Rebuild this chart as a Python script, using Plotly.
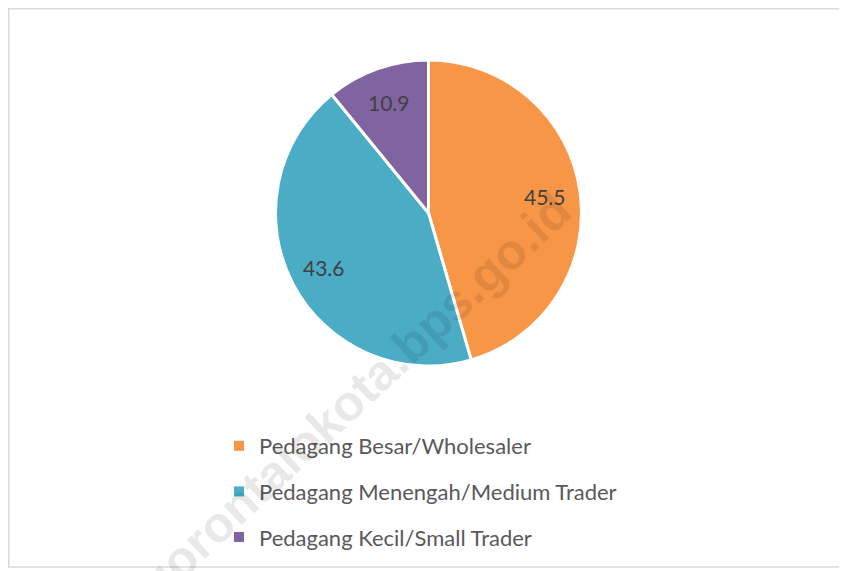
import math
import plotly.graph_objects as go

categories = ["Pedagang Besar/Wholesaler", "Pedagang Menengah/Medium Trader", "Pedagang Kecil/Small Trader"]
values = [45.5, 43.6, 10.9]
colors = ["#F79646", "#4BACC6", "#8064A2"]
watermark = "gorontalokota.bps.go.id"

# page has an 8px body margin; figure drawn at offset (8, 8)
OFF = 8
W, H = 847 - OFF, 571 - OFF
cx, cy, r = 428.5 - OFF, 213 - OFF, 153

fig = go.Figure()
fig.add_trace(go.Pie(
    labels=categories, values=values, sort=False, direction="clockwise", rotation=0,
    marker=dict(colors=colors, line=dict(color="white", width=3)),
    textinfo="none",
    domain=dict(x=[(cx - r) / W, (cx + r) / W], y=[(H - cy - r) / H, (H - cy + r) / H]),
    showlegend=False, hoverinfo="label+value",
))

# data labels placed at slice mid-angles (computed from the values)
total = sum(values)
cum = 0.0
for v in values:
    mid = (cum + v / 2) / total * 2 * math.pi
    cum += v
    px = cx + 0.77 * r * math.sin(mid)
    py = cy - 0.77 * r * math.cos(mid)
    fig.add_annotation(text=f"{v:.1f}", x=px / W, y=1 - py / H, xref="paper", yref="paper",
                       xanchor="center", yanchor="middle", showarrow=False,
                       font=dict(family="Lato", size=21, color="#404040"))

for i, (name, col) in enumerate(zip(categories, colors)):
    fig.add_trace(go.Scatter(
        x=[None], y=[None], mode="markers", name=name, legendgroup=str(i),
        marker=dict(symbol="square", size=10, color=col), showlegend=True,
    ))

fig.add_annotation(
    text="<b>" + watermark + "</b>", x=(354 - OFF) / W, y=1 - (397 - OFF) / H, xref="paper", yref="paper",
    xanchor="center", yanchor="middle",
    showarrow=False, textangle=-43, font=dict(family="Liberation Sans", size=50, color="rgba(0,0,0,0.09)"),
)

fig.add_shape(type="rect", xref="paper", yref="paper", x0=0.75 / W, x1=1.05, y0=1 - (567 - OFF) / H, y1=1 - 0.75 / H,
              line=dict(color="#D9D9D9", width=1.5), fillcolor="rgba(0,0,0,0)", layer="below")

fig.update_layout(
    width=W, height=H, margin=dict(l=0, r=0, t=0, b=0),
    paper_bgcolor="white", plot_bgcolor="white",
    xaxis=dict(visible=False), yaxis=dict(visible=False),
    legend=dict(x=211 / W, y=1 - 417 / H, xanchor="left", yanchor="top",
                font=dict(family="Lato", size=22, color="#595959"),
                tracegroupgap=14, bgcolor="rgba(0,0,0,0)"),
)
fig.write_html("out.html")
